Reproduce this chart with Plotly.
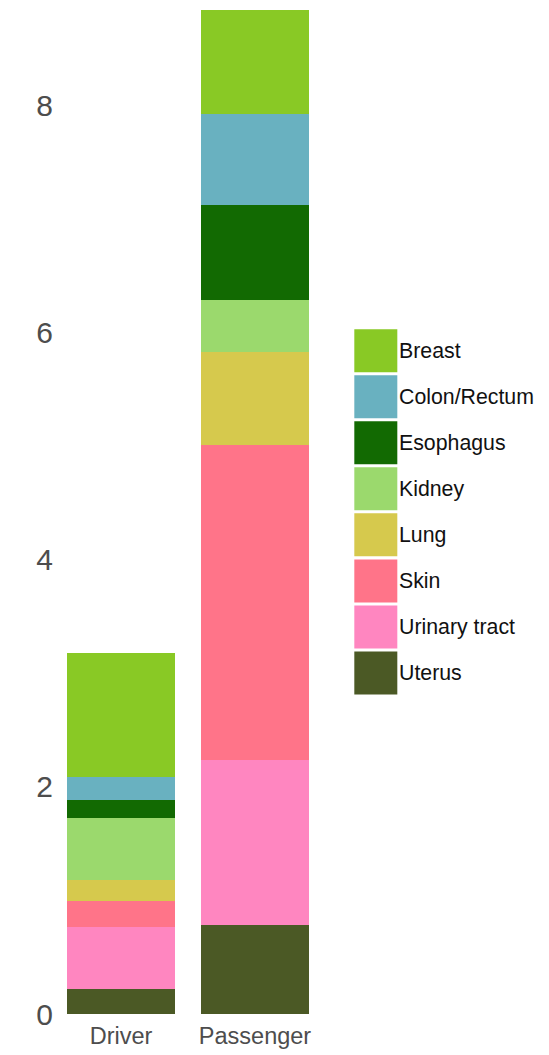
import plotly.graph_objects as go

groups = ["Driver", "Passenger"]
cancers = ["Breast", "Colon/Rectum", "Esophagus", "Kidney", "Lung", "Skin", "Urinary tract", "Uterus"]
driver_vals = [1.093, 0.203, 0.159, 0.544, 0.188, 0.226, 0.549, 0.218]
passenger_vals = [0.914, 0.802, 0.837, 0.458, 0.819, 2.778, 1.454, 0.781]
colors = ["#89C925", "#69B1C0", "#126A02", "#9BD96D", "#D6C94D", "#FF7489", "#FF86C0", "#4B5925"]
y_ticks = [0, 2, 4, 6, 8]

FONT = "Liberation Sans, Arial, sans-serif"

fig = go.Figure()
# stack from bottom (Uterus) to top (Breast)
for i in reversed(range(len(cancers))):
    fig.add_trace(go.Bar(
        x=groups, y=[driver_vals[i], passenger_vals[i]], name=cancers[i],
        marker=dict(color=colors[i], line=dict(width=0)), showlegend=False,
        xaxis="x", yaxis="y",
    ))

# custom legend with large square keys
fig.add_trace(go.Scatter(
    x=[0] * len(cancers), y=cancers, mode="markers",
    marker=dict(symbol="square", size=43, color=colors, line=dict(width=0)),
    xaxis="x2", yaxis="y2", showlegend=False, hoverinfo="skip",
))
for c in cancers:
    fig.add_annotation(x=0, y=c, xref="x2", yref="y2", text=c, showarrow=False,
                       xanchor="left", yanchor="middle", xshift=21,
                       font=dict(family=FONT, size=21.3, color="#111111"))

total_max = max(sum(driver_vals), sum(passenger_vals))

# page body has an 8px offset: figure is 541x1047 placed at (8, 8)
fig.update_layout(
    width=541, height=1047,
    margin=dict(l=49, r=0, t=2, b=41),
    paper_bgcolor="white", plot_bgcolor="white",
    barmode="stack", bargap=0.194,
    xaxis=dict(domain=[0, (322 - 57) / 492], range=[-0.478, 1.5], showgrid=False, zeroline=False,
               showline=False, ticks="", ticklabelstandoff=5,
               tickfont=dict(family=FONT, size=23.5, color="#4d4d4d")),
    yaxis=dict(range=[0, total_max], tickvals=y_ticks, showgrid=False, zeroline=False, showline=False,
               ticks="", ticklabelstandoff=3,
               tickfont=dict(family=FONT, size=30, color="#4d4d4d")),
    xaxis2=dict(domain=[(352 - 57) / 492, 1.0], range=[-0.55, 4.0], visible=False, anchor="y2"),
    yaxis2=dict(domain=[(1014 - 696) / 1004, (1014 - 327.7) / 1004], range=[7.5, -0.5],
                visible=False, anchor="x2", type="category", categoryorder="array",
                categoryarray=cancers),
)

fig.write_html("out.html")
